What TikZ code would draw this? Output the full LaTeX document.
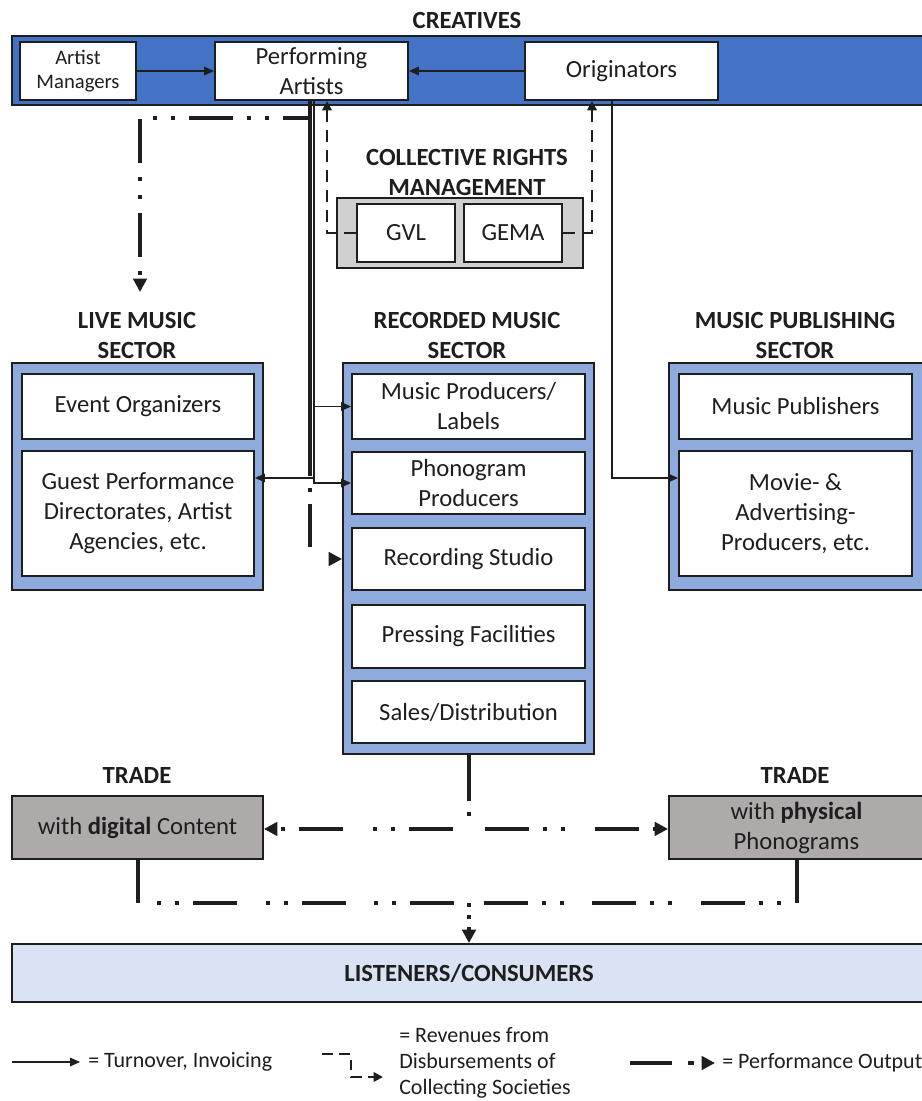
\documentclass[tikz,border=0pt]{standalone}
\usepackage{fontspec}
\setmainfont{Carlito}
\usetikzlibrary{arrows.meta,calc}
\definecolor{bandblue}{HTML}{4472C4}
\definecolor{sectblue}{HTML}{8FAADC}
\definecolor{crmgray}{HTML}{D0D0D0}
\definecolor{tradegray}{HTML}{AEAAAA}
\definecolor{lisblue}{HTML}{DAE3F3}
\definecolor{ink}{HTML}{1E1E1E}
\newcommand\fsBody{\fontsize{18.5}{22.5}\selectfont}
\newcommand\fsSmall{\fontsize{15.5}{18}\selectfont}
\newcommand\fsLeg{\fontsize{16.5}{19.5}\selectfont}
\begin{document}
\begin{tikzpicture}[x=0.75pt,y=-0.75pt,
  bx/.style n args={4}{minimum width={(#3-#1)*0.75pt}, minimum height={(#4-#2)*0.75pt}, at={({(#1+#3)/2},{(#2+#4)/2})}},
  box/.style={draw=ink, line width=1.4pt, fill=white, inner sep=0pt, align=center, font=\fsBody, text=ink},
  outer/.style={draw=ink, line width=1.4pt, fill=sectblue, inner sep=0pt},
  bandbox/.style={draw=ink, line width=1.4pt, fill=bandblue, inner sep=0pt},
  crmbox/.style={draw=ink, line width=1.4pt, fill=crmgray, inner sep=0pt},
  tradebox/.style={draw=ink, line width=1.4pt, fill=tradegray, inner sep=0pt, align=center, font=\fsBody, text=ink},
  lisbox/.style={draw=ink, line width=1.4pt, fill=lisblue, inner sep=0pt, align=center, font=\fsBody\bfseries, text=ink},
  title/.style={font=\fsBody\bfseries, align=center, text=ink, inner sep=0pt},
  leg/.style={font=\fsLeg, text=ink, inner sep=0pt},
  turn/.style={draw=ink, line width=0.9pt, -{Triangle[length=7.5pt,width=6.5pt]}},
  rev/.style={draw=ink, line width=2pt, dash pattern=on 9pt off 6pt, -{Triangle[length=7pt,width=7pt]}},
  perf/.style={draw=ink, line width=3pt, dash pattern=on 33pt off 10.5pt on 3pt off 10.5pt on 3pt off 10.5pt},
  perfsolid/.style={draw=ink, line width=3pt},
  perfdot/.style={draw=ink, line width=3pt, dash pattern=on 3pt off 6pt},
  perfarrow/.style={-{Triangle[length=10pt,width=10pt]}}
]
\useasboundingbox (0,0) rectangle (922,1101);
\clip (0,0) rectangle (922,1101);
\fill[white] (0,0) rectangle (922,1101);

% ---------- CREATIVES ----------
\node[title] (creat) at (467,20) {CREATIVES};
\node[bandbox, bx={12}{36}{930}{105}] (band) {};
\node[box, font=\fsSmall, bx={20}{42}{136}{100}] (am) {Artist\\Managers};
\node[box, bx={215}{42}{408}{100}] (pa) {Performing\\Artists};
\node[box, bx={525}{42}{718}{100}] (orig) {Originators};

% ---------- COLLECTIVE RIGHTS ----------
\node[title] (crmt) at (467,172) {COLLECTIVE RIGHTS\\MANAGEMENT};
\node[crmbox, bx={337}{198}{583}{268}] (crm) {};
\node[box, bx={357}{204}{455}{262}] (gvl) {GVL};
\node[box, bx={464}{204}{562}{262}] (gema) {GEMA};

% ---------- SECTORS ----------
\node[title] (lvt) at (137,335) {LIVE MUSIC\\SECTOR};
\node[title] (rct) at (467,335) {RECORDED MUSIC\\SECTOR};
\node[title] (pbt) at (795,335) {MUSIC PUBLISHING\\SECTOR};

\node[outer, bx={12}{363}{263}{590}] (live) {};
\node[box, bx={22}{374}{254}{439}] (eo) {Event Organizers};
\node[box, bx={22}{451}{254}{576}] (gp) {Guest Performance\\Directorates, Artist\\Agencies, etc.};

\node[outer, bx={343}{363}{594}{754}] (rec) {};
\node[box, bx={352}{374}{585}{439}] (mp) {Music Producers/\\Labels};
\node[box, bx={352}{452}{585}{514}] (pp) {Phonogram\\Producers};
\node[box, bx={352}{528}{585}{590}] (rs) {Recording Studio};
\node[box, bx={352}{605}{585}{668}] (pf) {Pressing Facilities};
\node[box, bx={352}{681}{585}{743}] (sd) {Sales/Distribution};

\node[outer, bx={669}{363}{930}{590}] (pub) {};
\node[box, bx={679}{374}{912}{439}] (mpub) {Music Publishers};
\node[box, bx={679}{451}{912}{576}] (mov) {Movie- \&\\Advertising-\\Producers, etc.};

% ---------- TRADE / LISTENERS ----------
\node[title] (tdt) at (137,775) {TRADE};
\node[title] (tpt) at (795,775) {TRADE};
\node[tradebox, bx={12}{796}{263}{859}] (td) {with \textbf{digital} Content};
\node[tradebox, bx={669}{796}{924}{859}] (tp) {with \textbf{physical}\\Phonograms};
\node[lisbox, bx={12}{944}{926}{1002}] (lis) {LISTENERS/CONSUMERS};

% ---------- Turnover connectors ----------
\draw[turn] (am) -- (pa);
\draw[turn] (orig) -- (pa);
\draw[turn] ($(pa.south)+(2.5,0)$) |- (mp.west);
\draw[turn] ($(pa.south)+(2.5,0)$) |- (pp.west);
\coordinate (jL) at ($(pa.south)+(2.5,377)$);
\draw[turn] (jL) -- (jL -| gp.east);
\draw[turn] ($(orig.south)+(-9.5,0)$) |- ($(mov.west)+(0,-35.5)$);

% ---------- Revenue connectors ----------
\draw[rev] (gvl.west) -| ($(pa.south)+(15.5,0)$);
\draw[rev] (gema.east) -| ($(orig.south)+(-29.5,0)$);

% ---------- Performance output ----------
\coordinate (ps) at ($(pa.south)+(-1.5,0)$);
\coordinate (pm) at ($(pa.south)+(-1.5,375)$);
\coordinate (lv1) at (140,118);
\coordinate (lv2) at (140,292);
\draw[perfsolid] (ps) -- (pm);
\draw[perf, dash pattern=on 0pt off 9pt on 3pt off 9pt on 32pt off 60pt, perfarrow] (pm) |- (rs.west -| rec.west);
\draw[perf, perfarrow] (ps) |- (lv1) -- (lv2);

\coordinate (b1) at ($(rec.south)+(0,46)$);
\coordinate (b2) at ($(rec.south)+(0,74)$);
\draw[perfsolid] (rec.south) -- (b1);
\draw[perf, dash pattern=on 0pt off 8pt on 3pt off 20pt] (b1) -- (b2);
\draw[perf, dash pattern=on 0pt off 12pt on 33pt off 10.5pt on 3pt off 10.5pt on 3pt off 10.5pt, perfarrow] (b2) -- (b2 -| td.east);
\draw[perf, dash pattern=on 0pt off 12pt on 33pt off 10.5pt on 3pt off 10.5pt on 3pt off 10.5pt, perfarrow] (b2) -- (b2 -| tp.west);

\coordinate (c1) at ($(td.south)+(0,43)$);
\coordinate (c2) at ($(tp.south)+(0,43)$);
\coordinate (cm) at (c1 -| lis.north);
\draw[perfsolid] (td.south) -- (c1);
\draw[perfsolid] (tp.south) -- (c2);
\draw[perf, dash pattern=on 0pt off 11pt on 33pt off 10.5pt on 3pt off 10.5pt on 3pt off 10.5pt] (cm) -- (c1);
\draw[perf, dash pattern=on 0pt off 11pt on 33pt off 10.5pt on 3pt off 10.5pt on 3pt off 10.5pt] (cm) -- (c2);
\draw[perfdot, perfarrow] (cm) -- (lis.north);

% ---------- Legend ----------
\coordinate (l1a) at (12,1062);
\coordinate (l1b) at (80,1062);
\draw[turn] (l1a) -- (l1b);
\node[leg, anchor=west] (lt1) at (88,1062) {= Turnover, Invoicing};

\coordinate (l2a) at (322,1054);
\coordinate (l2b) at (351,1054);
\coordinate (l2c) at (351,1077);
\coordinate (l2d) at (383,1077);
\draw[rev, dash pattern=on 8pt off 5pt] (l2a) -- (l2b) -- (l2c) -- (l2d);
\node[leg, anchor=west, align=left] (lt2) at (399,1063) {= Revenues from\\Disbursements of\\Collecting Societies};

\coordinate (l3a) at (630,1063);
\coordinate (l3b) at (715,1063);
\draw[perf, dash pattern=on 31.5pt off 12pt on 4.5pt off 20pt, perfarrow] (l3a) -- (l3b);
\node[leg, anchor=west] (lt3) at (722,1063) {= Performance Output};
\end{tikzpicture}
\end{document}
